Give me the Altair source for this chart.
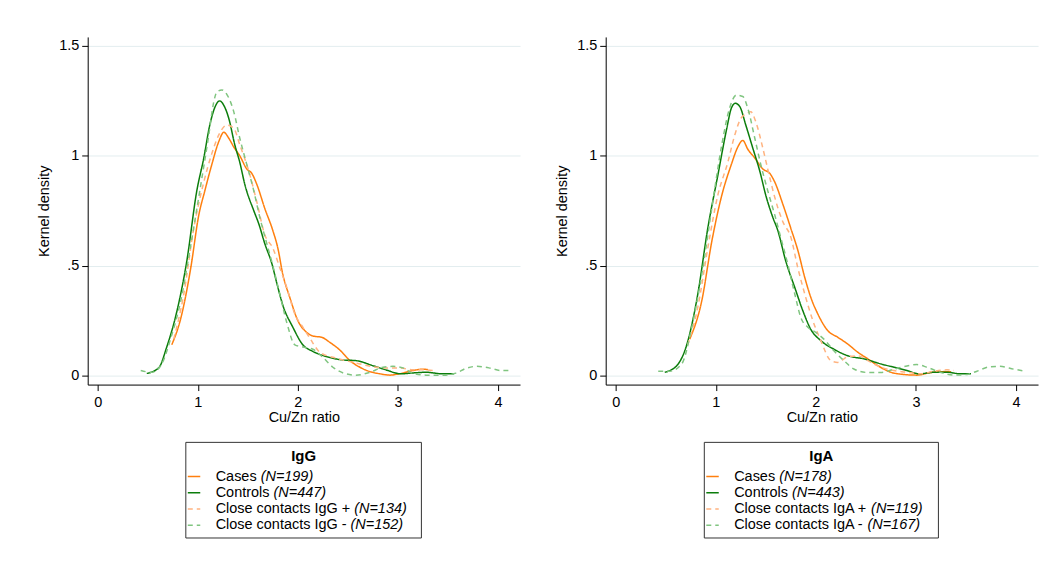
import altair as alt
import pandas as pd

FONT = "Liberation Sans"
FS = 14.5

series_names = ["Cases", "Controls", "CC+", "CC-"]
series_colors = ["#ff7f0e", "#0b7d0b", "#ffb380", "#80c580"]
series_dash = [[1, 0], [1, 0], [5, 4], [5, 4]]

# ---------------- IgG panel ----------------
igg_cases_x = [0.74, 0.83, 0.93, 1.01, 1.07, 1.14, 1.21, 1.26, 1.31, 1.36, 1.42, 1.49, 1.54, 1.59, 1.67, 1.75, 1.80, 1.85, 1.92, 2.00, 2.09, 2.15, 2.24, 2.32, 2.42, 2.52, 2.62, 2.72, 2.82, 2.92, 3.01, 3.15, 3.25, 3.30]
igg_cases_y = [0.14, 0.26, 0.49, 0.73, 0.84, 0.96, 1.065, 1.107, 1.08, 1.04, 1.0, 0.94, 0.92, 0.87, 0.76, 0.66, 0.58, 0.46, 0.355, 0.25, 0.196, 0.18, 0.174, 0.151, 0.116, 0.068, 0.038, 0.018, 0.008, 0.002, 0.008, 0.023, 0.029, 0.027]

igg_controls_x = [0.49, 0.61, 0.69, 0.79, 0.89, 0.99, 1.06, 1.12, 1.17, 1.22, 1.26, 1.31, 1.37, 1.42, 1.47, 1.56, 1.61, 1.67, 1.74, 1.79, 1.85, 1.95, 2.05, 2.15, 2.29, 2.45, 2.58, 2.75, 2.88, 3.03, 3.15, 3.28, 3.45, 3.56]
igg_controls_y = [0.01, 0.035, 0.13, 0.29, 0.52, 0.84, 0.99, 1.14, 1.22, 1.25, 1.23, 1.17, 1.05, 0.97, 0.87, 0.75, 0.69, 0.60, 0.51, 0.42, 0.32, 0.22, 0.14, 0.11, 0.086, 0.071, 0.068, 0.045, 0.026, 0.008, 0.012, 0.015, 0.008, 0.008]

igg_ccpos_x = [0.76, 0.86, 0.96, 1.06, 1.14, 1.21, 1.29, 1.36, 1.42, 1.51, 1.59, 1.67, 1.75, 1.82, 1.89, 1.97, 2.05, 2.12, 2.22, 2.35, 2.48, 2.62, 2.75, 2.88, 3.01, 3.15, 3.28, 3.38]
igg_ccpos_y = [0.166, 0.37, 0.67, 0.88, 1.01, 1.095, 1.14, 1.125, 1.05, 0.93, 0.79, 0.64, 0.58, 0.49, 0.40, 0.28, 0.22, 0.17, 0.106, 0.083, 0.068, 0.053, 0.04, 0.035, 0.035, 0.026, 0.026, 0.02]

igg_ccneg_x = [0.43, 0.54, 0.64, 0.73, 0.83, 0.925, 1.02, 1.11, 1.16, 1.19, 1.24, 1.29, 1.36, 1.42, 1.49, 1.56, 1.62, 1.69, 1.75, 1.82, 1.89, 1.97, 2.05, 2.15, 2.25, 2.35, 2.48, 2.58, 2.72, 2.85, 2.95, 3.05, 3.15, 3.28, 3.45, 3.58, 3.68, 3.79, 3.91, 4.03, 4.13]
igg_ccneg_y = [0.023, 0.015, 0.053, 0.17, 0.34, 0.58, 0.84, 1.095, 1.246, 1.29, 1.30, 1.28, 1.2, 1.08, 0.96, 0.84, 0.72, 0.60, 0.50, 0.37, 0.24, 0.14, 0.13, 0.12, 0.083, 0.038, 0.008, 0.002, 0.015, 0.038, 0.042, 0.035, 0.011, 0.002, 0.002, 0.011, 0.033, 0.042, 0.035, 0.023, 0.023]

# ---------------- IgA panel ----------------
iga_cases_x = [0.74, 0.86, 0.96, 1.06, 1.155, 1.22, 1.27, 1.32, 1.39, 1.47, 1.54, 1.59, 1.67, 1.75, 1.82, 1.89, 1.95, 2.02, 2.12, 2.22, 2.32, 2.42, 2.52, 2.62, 2.75, 2.88, 3.01, 3.15, 3.28, 3.35]
iga_cases_y = [0.166, 0.34, 0.61, 0.82, 0.96, 1.04, 1.07, 1.03, 0.99, 0.94, 0.92, 0.88, 0.78, 0.67, 0.57, 0.445, 0.355, 0.28, 0.204, 0.174, 0.143, 0.106, 0.076, 0.045, 0.015, 0.005, 0.002, 0.014, 0.018, 0.017]

iga_controls_x = [0.49, 0.61, 0.71, 0.82, 0.92, 1.02, 1.11, 1.155, 1.195, 1.24, 1.30, 1.37, 1.44, 1.50, 1.57, 1.62, 1.70, 1.79, 1.87, 1.95, 2.05, 2.18, 2.32, 2.48, 2.65, 2.78, 2.91, 3.03, 3.18, 3.31, 3.45, 3.55]
iga_controls_y = [0.015, 0.045, 0.14, 0.37, 0.67, 0.91, 1.125, 1.216, 1.239, 1.224, 1.14, 1.035, 0.93, 0.82, 0.72, 0.66, 0.52, 0.40, 0.295, 0.21, 0.159, 0.12, 0.09, 0.076, 0.053, 0.038, 0.023, 0.008, 0.015, 0.015, 0.008, 0.008]

iga_ccpos_x = [0.72, 0.82, 0.92, 1.02, 1.12, 1.19, 1.25, 1.30, 1.35, 1.40, 1.47, 1.54, 1.59, 1.67, 1.75, 1.82, 1.89, 1.97, 2.05, 2.15, 2.22, 2.32, 2.42, 2.52, 2.65, 2.78, 2.91, 3.05, 3.18, 3.31, 3.38]
iga_ccpos_y = [0.14, 0.31, 0.58, 0.82, 0.97, 1.095, 1.17, 1.19, 1.20, 1.155, 1.035, 0.90, 0.81, 0.70, 0.63, 0.49, 0.37, 0.25, 0.159, 0.068, 0.06, 0.086, 0.09, 0.068, 0.038, 0.023, 0.015, 0.008, 0.02, 0.026, 0.023]

iga_ccneg_x = [0.425, 0.54, 0.66, 0.76, 0.86, 0.96, 1.06, 1.14, 1.205, 1.27, 1.32, 1.39, 1.45, 1.52, 1.59, 1.65, 1.72, 1.79, 1.85, 1.92, 2.00, 2.08, 2.18, 2.28, 2.38, 2.52, 2.65, 2.78, 2.91, 3.01, 3.11, 3.25, 3.38, 3.51, 3.61, 3.74, 3.84, 3.98, 4.09]
iga_ccneg_y = [0.02, 0.02, 0.053, 0.22, 0.46, 0.76, 1.05, 1.22, 1.276, 1.27, 1.216, 1.08, 0.96, 0.84, 0.73, 0.627, 0.506, 0.37, 0.264, 0.22, 0.196, 0.166, 0.113, 0.068, 0.03, 0.014, 0.014, 0.029, 0.044, 0.05, 0.038, 0.014, 0.002, 0.005, 0.02, 0.04, 0.042, 0.029, 0.02]

# Legend texts
igg_title = "IgG"
igg_labels = ["Cases", "Controls", "Close contacts IgG +", "Close contacts IgG -"]
igg_ns = ["(N=199)", "(N=447)", "(N=134)", "(N=152)"]
iga_title = "IgA"
iga_labels = ["Cases", "Controls", "Close contacts IgA +", "Close contacts IgA -"]
iga_ns = ["(N=178)", "(N=443)", "(N=119)", "(N=167)"]

x_ticks = [0, 1, 2, 3, 4]
y_ticks = [0, 0.5, 1, 1.5]

PW, PH = 434, 349
XDOM = [-0.1, 4.22]
YDOM = [-0.041, 1.541]

# Arial/Liberation Sans advance widths (per 1000 em) for legend text offset
AW = {" ": 278, "(": 333, ")": 333, "+": 584, "-": 333, "=": 584, "A": 667, "C": 722,
      "G": 778, "I": 278, "N": 722, "a": 556, "c": 500, "e": 556, "g": 556, "l": 222,
      "n": 556, "o": 556, "r": 333, "s": 500, "t": 278}
def text_w(s):
    return sum(AW.get(ch, 556) for ch in s) * FS / 1000.0


def panel(xs, ys, title, labels, ns, box_l, box_r):
    frames = []
    for name, x, y in zip(series_names, xs, ys):
        frames.append(pd.DataFrame({"series": name, "order": range(len(x)), "x": x, "y": y}))
    df = pd.concat(frames, ignore_index=True)

    xs_ = alt.Scale(domain=XDOM, nice=False, zero=False)
    ys_ = alt.Scale(domain=YDOM, nice=False, zero=False)
    xax = alt.Axis(values=x_ticks, title="Cu/Zn ratio", grid=False, labelPadding=5, titlePadding=2)
    yax = alt.Axis(values=y_ticks, title="Kernel density", grid=True, labelPadding=3, titlePadding=7,
                   labelExpr="datum.value == 0.5 ? '.5' : format(datum.value, '~g')")
    layers = []
    for i, name in enumerate(series_names):
        layers.append(
            alt.Chart(df).transform_filter(alt.datum.series == name)
            .mark_line(interpolate="monotone", strokeWidth=1.5, color=series_colors[i],
                       strokeDash=series_dash[i], clip=True)
            .encode(
                x=alt.X("x:Q", scale=xs_, axis=xax),
                y=alt.Y("y:Q", scale=ys_, axis=yax),
                order="order:Q",
            )
        )
    plot = alt.layer(*layers).properties(width=PW, height=PH)

    # legend box
    rows = pd.DataFrame({"row": list(range(4)), "series": series_names, "label": labels, "n": ns})
    yleg = alt.Scale(domain=[0, 3], range=[34.3, 83.2], nice=False, zero=False)
    box = alt.Chart(pd.DataFrame({"k": [0]})).mark_rect(fill="white", stroke="#333333", strokeWidth=1).encode(
        x=alt.value(box_l), x2=alt.value(box_r), y=alt.value(0), y2=alt.value(96))
    ttl = alt.Chart(pd.DataFrame({"t": [title]})).mark_text(
        font=FONT, fontSize=15, fontWeight="bold", align="center", baseline="middle", color="#000").encode(
        x=alt.value((box_l + box_r) / 2), y=alt.value(14), text="t:N")
    sym = alt.Chart(rows).mark_rule(strokeWidth=1.5).encode(
        x=alt.value(box_l + 2), x2=alt.value(box_l + 14.5),
        y=alt.Y("row:Q", scale=yleg, axis=None),
        color=alt.Color("series:N", scale=alt.Scale(domain=series_names, range=series_colors), legend=None),
        strokeDash=alt.StrokeDash("series:N", scale=alt.Scale(domain=series_names, range=series_dash), legend=None),
    )
    tx0 = box_l + 30
    lab = alt.Chart(rows).mark_text(font=FONT, fontSize=FS, align="left", baseline="middle", color="#000").encode(
        x=alt.value(tx0), y=alt.Y("row:Q", scale=yleg, axis=None), text="label:N")
    ital = []
    for r in range(4):
        ital.append(
            alt.Chart(rows).transform_filter(alt.datum.row == r)
            .mark_text(font=FONT, fontSize=FS, fontStyle="italic", align="left", baseline="middle", color="#000")
            .encode(x=alt.value(tx0 + text_w(labels[r] + " ")), y=alt.Y("row:Q", scale=yleg, axis=None), text="n:N")
        )
    legend = alt.layer(box, ttl, sym, lab, *ital).properties(width=PW, height=97)
    return alt.vconcat(plot, legend, spacing=16)


left = panel([igg_cases_x, igg_controls_x, igg_ccpos_x, igg_ccneg_x],
             [igg_cases_y, igg_controls_y, igg_ccpos_y, igg_ccneg_y],
             igg_title, igg_labels, igg_ns, 98.5, 335)
right = panel([iga_cases_x, iga_controls_x, iga_ccpos_x, iga_ccneg_x],
              [iga_cases_y, iga_controls_y, iga_ccpos_y, iga_ccneg_y],
              iga_title, iga_labels, iga_ns, 99, 334)

chart = alt.hconcat(left, right, spacing=33).properties(
    padding={"left": 28, "top": 27, "right": 5, "bottom": 5}
).configure_view(stroke="transparent").configure_axis(
    domainColor="#000", domainWidth=1, tickColor="#000", tickSize=6, tickWidth=1,
    labelFont=FONT, labelFontSize=FS, labelColor="#000",
    titleFont=FONT, titleFontSize=FS, titleFontWeight="normal", titleColor="#000",
    gridColor="#e3edef", gridWidth=1,
).configure_axisY(labelAngle=0)

chart.save("out.html", embed_options={"renderer": "svg", "actions": False})
